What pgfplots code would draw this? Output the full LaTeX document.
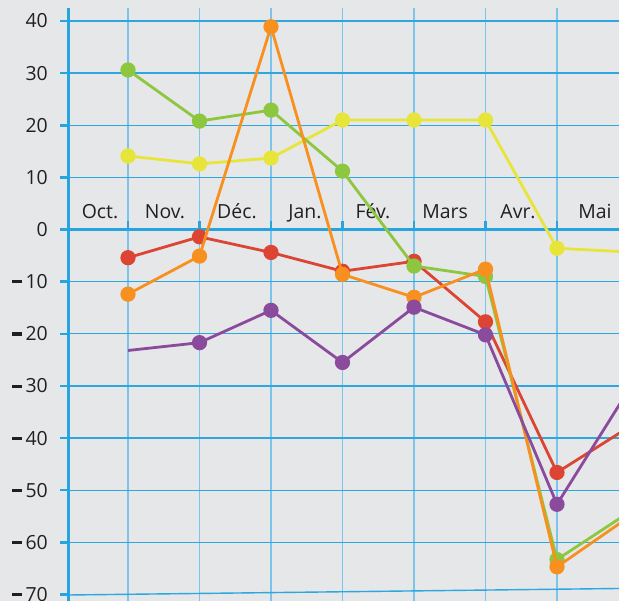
\documentclass[border=0pt]{standalone}
\usepackage{pgfplots}
\pgfplotsset{compat=1.18}
\usepackage{fontspec}
\setmainfont{Open Sans}
\definecolor{bg}{HTML}{E6E7E9}
\definecolor{gridh}{HTML}{2CA7E0}
\definecolor{gridv}{HTML}{7CC4EA}
\definecolor{axblue}{HTML}{27A3DE}
\definecolor{cgreen}{HTML}{8DC63F}
\definecolor{cyellow}{HTML}{E8E53A}
\definecolor{corange}{HTML}{F7901E}
\definecolor{cred}{HTML}{DC4433}
\definecolor{cpurple}{HTML}{8B4B9D}
\definecolor{txt}{HTML}{231F20}
\newcommand\mn{\rule[0.27em]{0.48em}{0.16em}\hspace{0.2em}}
\tikzset{lbl/.style={font=\fontsize{19.5}{22}\selectfont, text=txt, inner sep=0pt},
  ser/.style={#1, line width=2.8bp, mark=*, mark size=6.2bp, mark options={draw=none, fill=#1}},
  hg/.style={gridh, line width=1.4bp}, vg/.style={gridv, line width=1.6bp}}
\begin{document}
\begin{tikzpicture}
\useasboundingbox (0,0) rectangle (619bp,601bp);
\fill[bg] (0,0) rectangle (619bp,601bp);
\begin{axis}[at={(68bp,0bp)}, anchor=south west, scale only axis,
  width=551bp, height=593bp,
  xmin=0.1608, xmax=7.8671, ymin=-71.25, ymax=42.49,
  axis lines=none, clip mode=individual]
% vertical grid
\draw[vg] (axis cs:1,-71.25) -- (axis cs:1,42.49);
\draw[vg] (axis cs:2,-71.25) -- (axis cs:2,42.49);
\draw[vg] (axis cs:3,-71.25) -- (axis cs:3,42.49);
\draw[vg] (axis cs:4,-71.25) -- (axis cs:4,42.49);
\draw[vg] (axis cs:5,-71.25) -- (axis cs:5,42.49);
\draw[vg] (axis cs:6,-71.25) -- (axis cs:6,42.49);
\draw[vg] (axis cs:7,-71.25) -- (axis cs:7,42.49);
% horizontal grid
\draw[hg] (axis cs:0.1608,40) -- (axis cs:7.8671,40);
\draw[hg] (axis cs:0.1608,30) -- (axis cs:7.8671,30);
\draw[hg] (axis cs:0.1608,20) -- (axis cs:7.8671,20);
\draw[hg] (axis cs:0.1608,10) -- (axis cs:7.8671,10);
\draw[hg] (axis cs:0.1608,-10) -- (axis cs:7.8671,-10);
\draw[hg] (axis cs:0.1608,-20) -- (axis cs:7.8671,-20);
\draw[hg] (axis cs:0.1608,-30) -- (axis cs:7.8671,-30);
\draw[hg] (axis cs:0.1608,-40) -- (axis cs:7.8671,-40);
\draw[hg] (axis cs:0.1608,-50) -- (axis cs:7.8671,-50);
\draw[hg] (axis cs:0.1608,-60) -- (axis cs:7.8671,-60);
\draw[hg] (axis cs:0.1608,-70.1) -- (axis cs:7.8671,-68.85);
% zero line with ticks
\draw[axblue, line width=3bp] (axis cs:0.1608,0) -- (axis cs:7.8671,0);
\draw[axblue, line width=2.5bp] (axis cs:1,0) -- (axis cs:1,1.73);
\draw[axblue, line width=2.5bp] (axis cs:2,0) -- (axis cs:2,1.73);
\draw[axblue, line width=2.5bp] (axis cs:3,0) -- (axis cs:3,1.73);
\draw[axblue, line width=2.5bp] (axis cs:4,0) -- (axis cs:4,1.73);
\draw[axblue, line width=2.5bp] (axis cs:5,0) -- (axis cs:5,1.73);
\draw[axblue, line width=2.5bp] (axis cs:6,0) -- (axis cs:6,1.73);
\draw[axblue, line width=2.5bp] (axis cs:7,0) -- (axis cs:7,1.73);
% y axis with ticks
\draw[axblue, line width=3bp] (axis cs:0.1608,-71.25) -- (axis cs:0.1608,42.49);
\draw[axblue, line width=2.5bp] (axis cs:0.0489,40) -- (axis cs:0.1608,40);
\draw[axblue, line width=2.5bp] (axis cs:0.0489,30) -- (axis cs:0.1608,30);
\draw[axblue, line width=2.5bp] (axis cs:0.0489,20) -- (axis cs:0.1608,20);
\draw[axblue, line width=2.5bp] (axis cs:0.0489,10) -- (axis cs:0.1608,10);
\draw[axblue, line width=2.5bp] (axis cs:0.0489,0) -- (axis cs:0.1608,0);
\draw[axblue, line width=2.5bp] (axis cs:0.0489,-10) -- (axis cs:0.1608,-10);
\draw[axblue, line width=2.5bp] (axis cs:0.0489,-20) -- (axis cs:0.1608,-20);
\draw[axblue, line width=2.5bp] (axis cs:0.0489,-30) -- (axis cs:0.1608,-30);
\draw[axblue, line width=2.5bp] (axis cs:0.0489,-40) -- (axis cs:0.1608,-40);
\draw[axblue, line width=2.5bp] (axis cs:0.0489,-50) -- (axis cs:0.1608,-50);
\draw[axblue, line width=2.5bp] (axis cs:0.0489,-60) -- (axis cs:0.1608,-60);
\draw[axblue, line width=2.5bp] (axis cs:0.0489,-70) -- (axis cs:0.1608,-70);
% y tick labels
\node[lbl, anchor=east, xshift=-20bp] at (axis cs:0.1608,40) {40};
\node[lbl, anchor=east, xshift=-20bp] at (axis cs:0.1608,30) {30};
\node[lbl, anchor=east, xshift=-20bp] at (axis cs:0.1608,20) {20};
\node[lbl, anchor=east, xshift=-20bp] at (axis cs:0.1608,10) {10};
\node[lbl, anchor=east, xshift=-20bp] at (axis cs:0.1608,0) {0};
\node[lbl, anchor=east, xshift=-20bp] at (axis cs:0.1608,-10) {\mn10};
\node[lbl, anchor=east, xshift=-20bp] at (axis cs:0.1608,-20) {\mn20};
\node[lbl, anchor=east, xshift=-20bp] at (axis cs:0.1608,-30) {\mn30};
\node[lbl, anchor=east, xshift=-20bp] at (axis cs:0.1608,-40) {\mn40};
\node[lbl, anchor=east, xshift=-20bp] at (axis cs:0.1608,-50) {\mn50};
\node[lbl, anchor=east, xshift=-20bp] at (axis cs:0.1608,-60) {\mn60};
\node[lbl, anchor=east, xshift=-20bp] at (axis cs:0.1608,-70) {\mn70};
% month labels
\node[lbl, anchor=base] at (axis cs:0.608,2.21) {Oct.};
\node[lbl, anchor=base] at (axis cs:1.517,2.21) {Nov.};
\node[lbl, anchor=base] at (axis cs:2.524,2.21) {Déc.};
\node[lbl, anchor=base] at (axis cs:3.476,2.21) {Jan.};
\node[lbl, anchor=base] at (axis cs:4.427,2.21) {Fév.};
\node[lbl, anchor=base] at (axis cs:5.434,2.21) {Mars};
\node[lbl, anchor=base] at (axis cs:6.455,2.21) {Avr.};
\node[lbl, anchor=base] at (axis cs:7.531,2.21) {Mai};
% data
\addplot[ser=cyellow] coordinates {(1,14.1)(2,12.6)(3,13.7)(4,21.0)(5,21.0)(6,21.0)(7,-3.6)(8,-4.3)};
\addplot[ser=cred] coordinates {(1,-5.4)(2,-1.4)(3,-4.4)(4,-8.0)(5,-6.1)(6,-17.7)(7,-46.6)(8,-37.95)};
\addplot[ser=cgreen] coordinates {(1,30.6)(2,20.8)(3,22.9)(4,11.2)(5,-7.0)(6,-9.0)(7,-63.3)(8,-54.3)};
\addplot[ser=corange] coordinates {(1,-12.4)(2,-5.1)(3,38.9)(4,-8.6)(5,-13.0)(6,-7.6)(7,-64.7)(8,-55.2)};
\addplot[ser=cpurple, mark indices={2,3,4,5,6,7,8}] coordinates {(1,-23.2)(2,-21.7)(3,-15.5)(4,-25.5)(5,-14.9)(6,-20.2)(7,-52.7)(8,-30.8)};
\end{axis}
\end{tikzpicture}
\end{document}
